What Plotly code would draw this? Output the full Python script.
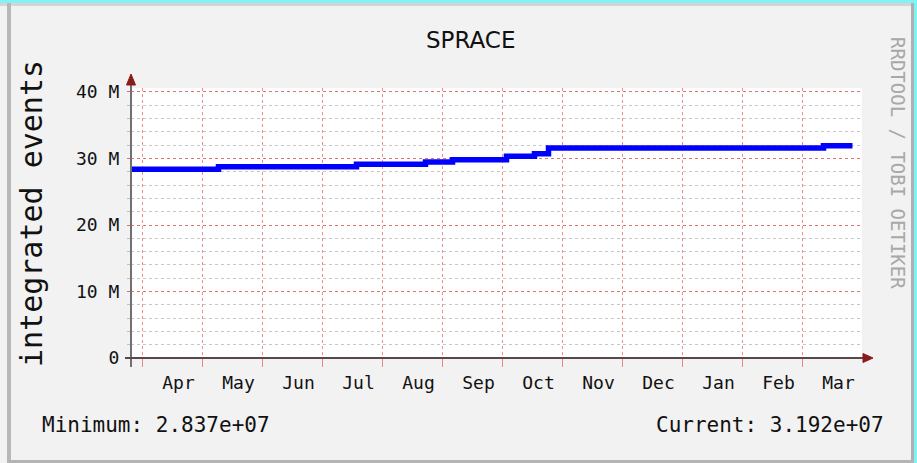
import plotly.graph_objects as go

# ---------------- data ----------------
months = ["Apr", "May", "Jun", "Jul", "Aug", "Sep", "Oct", "Nov", "Dec", "Jan", "Feb", "Mar"]
# step positions in "months since Apr 1" units and integrated events values
step_pos = [-0.183, 1.267, 3.567, 4.717, 5.167, 6.067, 6.533, 6.767, 11.35, 11.833]
step_val = [28.37e6, 28.76e6, 29.13e6, 29.49e6, 29.82e6, 30.32e6, 30.70e6, 31.57e6, 31.92e6, 31.92e6]
y_tickvals = [0, 10e6, 20e6, 30e6, 40e6]
y_ticktext = ["0", "10 M", "20 M", "30 M", "40 M"]
minimum_text = "Minimum: 2.837e+07"
current_text = "Current: 3.192e+07"

# ---------------- geometry ----------------
W, H = 917, 463
ML, MR, MT, MB = 131, 55, 88, 105
PW, PH = W - ML - MR, H - MT - MB
AX_Y = H - MB


def xp(px):
    return (px - ML) / PW


def yp(py):
    return (AX_Y - py) / PH


MONO = "DejaVu Sans Mono"
RED_GRID = "rgba(235,60,60,0.6)"
GRAY_GRID = "rgba(130,130,130,0.45)"
ARROW = "#8b1a1a"

fig = go.Figure()
fig.add_trace(go.Scatter(
    x=step_pos, y=step_val, mode="lines",
    line=dict(color="#0000ff", width=5.5, shape="hv"),
    hoverinfo="skip", showlegend=False,
))

fig.update_layout(
    width=W, height=H,
    margin=dict(l=ML, r=MR, t=MT, b=MB, pad=0),
    paper_bgcolor="#f2f2f2",
    plot_bgcolor="#ffffff",
    showlegend=False,
    xaxis=dict(
        range=[-0.1913, 11.9917],
        tickmode="array",
        tickvals=[i + 0.6 for i in range(12)],
        ticktext=months,
        ticks="",
        showgrid=False,
        zeroline=False,
        showline=False,
        ticklabelstandoff=12,
        tickfont=dict(family=MONO, size=18, color="#111"),
        minor=dict(
            tickmode="array",
            tickvals=list(range(12)),
            showgrid=True,
            gridcolor=RED_GRID,
            griddash="3px,3px",
            gridwidth=1,
            ticks="outside",
            ticklen=8,
            tickcolor=RED_GRID,
        ),
    ),
    yaxis=dict(
        range=[0, 40.6e6],
        tickmode="array",
        tickvals=y_tickvals,
        ticktext=y_ticktext,
        showgrid=True,
        gridcolor=RED_GRID,
        griddash="dot",
        gridwidth=1,
        zeroline=False,
        showline=False,
        ticks="outside",
        ticklen=3,
        tickcolor=RED_GRID,
        ticklabelstandoff=4,
        tickfont=dict(family=MONO, size=18, color="#111"),
        minor=dict(
            dtick=2e6,
            showgrid=True,
            gridcolor=GRAY_GRID,
            griddash="dot",
            gridwidth=1,
            ticks="outside",
            ticklen=3,
            tickcolor=GRAY_GRID,
        ),
    ),
)

shapes = []
# frame decoration (cyan page background + grey bevel)
CYAN = "#80f4f4"
shapes.append(dict(type="rect", xref="paper", yref="paper", x0=xp(0), x1=xp(W), y0=yp(0), y1=yp(3),
                   fillcolor=CYAN, line=dict(width=0), layer="above"))
shapes.append(dict(type="rect", xref="paper", yref="paper", x0=xp(914), x1=xp(W), y0=yp(0), y1=yp(H),
                   fillcolor=CYAN, line=dict(width=0), layer="above"))
shapes.append(dict(type="rect", xref="paper", yref="paper", x0=xp(0), x1=xp(914), y0=yp(3), y1=yp(6),
                   fillcolor="#d4d4d4", line=dict(width=0), layer="above"))
shapes.append(dict(type="rect", xref="paper", yref="paper", x0=xp(7), x1=xp(11), y0=yp(3), y1=yp(H),
                   fillcolor="#b8b8b8", line=dict(width=0), layer="above"))
shapes.append(dict(type="rect", xref="paper", yref="paper", x0=xp(911), x1=xp(914), y0=yp(3), y1=yp(H),
                   fillcolor="#b0b0b0", line=dict(width=0), layer="above"))
shapes.append(dict(type="rect", xref="paper", yref="paper", x0=xp(7), x1=xp(914), y0=yp(460), y1=yp(H),
                   fillcolor="#b4b4b4", line=dict(width=0), layer="above"))

# axis lines
shapes.append(dict(type="line", xref="paper", yref="paper", x0=xp(131), x1=xp(131), y0=yp(367), y1=yp(84),
                   line=dict(color="#707070", width=2), layer="above"))
shapes.append(dict(type="line", xref="paper", yref="paper", x0=xp(125), x1=xp(863), y0=yp(AX_Y), y1=yp(AX_Y),
                   line=dict(color="#5a4848", width=2), layer="above"))
# arrow heads
shapes.append(dict(type="path", xref="paper", yref="paper",
                   path=f"M {xp(126.5)} {yp(85)} L {xp(135.5)} {yp(85)} L {xp(131)} {yp(74)} Z",
                   fillcolor=ARROW, line=dict(color=ARROW, width=1), layer="above"))
shapes.append(dict(type="path", xref="paper", yref="paper",
                   path=f"M {xp(863)} {yp(AX_Y - 4.5)} L {xp(863)} {yp(AX_Y + 4.5)} L {xp(873)} {yp(AX_Y)} Z",
                   fillcolor=ARROW, line=dict(color=ARROW, width=1), layer="above"))
fig.update_layout(shapes=shapes)

ann = []
ann.append(dict(text="SPRACE", xref="paper", yref="paper", x=xp(470), y=yp(40),
                xanchor="center", yanchor="middle", showarrow=False,
                font=dict(family="DejaVu Sans", size=23, color="#111")))
ann.append(dict(text="integrated events", xref="paper", yref="paper", x=xp(31), y=yp(214),
                xanchor="center", yanchor="middle", showarrow=False, textangle=-90,
                font=dict(family=MONO, size=30, color="#111")))
ann.append(dict(text="RRDTOOL / TOBI OETIKER", xref="paper", yref="paper", x=xp(898), y=yp(163),
                xanchor="center", yanchor="middle", showarrow=False, textangle=90,
                font=dict(family=MONO, size=19, color="#a8a8a8")))
ann.append(dict(text=minimum_text, xref="paper", yref="paper", x=xp(40), y=yp(425),
                xanchor="left", yanchor="middle", showarrow=False,
                font=dict(family=MONO, size=21, color="#111")))
ann.append(dict(text=current_text, xref="paper", yref="paper", x=xp(886), y=yp(425),
                xanchor="right", yanchor="middle", showarrow=False,
                font=dict(family=MONO, size=21, color="#111")))
fig.update_layout(annotations=ann)

fig.write_html("out.html", config={"displayModeBar": False},
               post_script="document.body.style.margin='0';document.body.style.overflow='hidden';")
